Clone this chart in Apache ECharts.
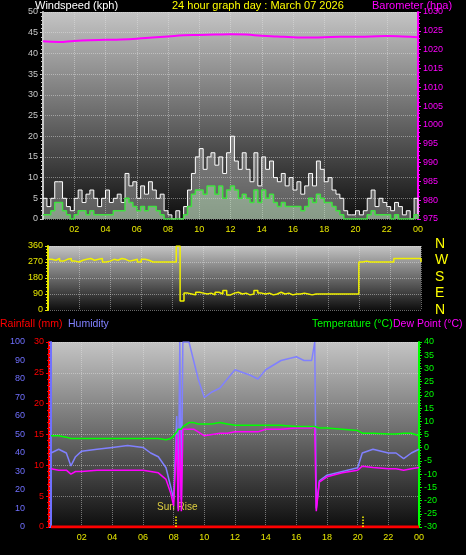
<!DOCTYPE html>
<html>
<head>
<meta charset="utf-8">
<script src="https://cdn.jsdelivr.net/npm/echarts@6/dist/echarts.min.js"></script>
<style>
html,body{margin:0;padding:0;background:#000}
#chart{width:466px;height:555px}
</style>
</head>
<body>
<div id="chart"></div>
<script>
// wind, 15 minute readings (kph)
var windGust=[5,3,5,9, 9,5,3,2, 5,7,4,6, 7,5,3,5, 7,4,5,6, 4,11,8,9, 5,8,6,9, 7,5,6,2,
  1,0,2,0, 3,7,11,15, 17,12,15,16, 13,15,11,16, 20,14,12,16, 12,9,16,8, 15,12,14,10, 9,11,8,10,
  7,9,6,8, 11,8,14,12, 9,10,7,6, 5,2,1,1, 2,1,2,5, 7,3,5,4, 3,2,4,3, 1,2,0,5, 1]
var windAvg=[1,1,2,4, 4,2,1,0, 1,2,2,1, 2,1,1,1, 1,1,2,2, 2,5,4,3, 2,3,2,3, 3,2,1,0,
  0,0,0,0, 1,3,6,7, 7,6,8,8, 6,8,5,7, 8,7,5,6, 5,4,7,4, 7,5,6,4, 3,4,3,3,
  3,3,2,3, 5,4,6,5, 4,4,3,2, 1,0,0,0, 0,0,0,1, 2,1,1,1, 1,0,1,0, 0,0,0,1, 0]
// wind direction, 15 minute readings (degrees)
var windDir=[285,280,290,275, 285,290,275,270, 280,285,290,280, 285,290,270,275,
  285,280,290,285, 275,280,285,270, 285,280,270,270, 270,270,270,270,
  270,360,50,95, 90,85,100,95, 90,95,85,100, 90,110,85,95, 100,90,95,85, 90,110,95,90,
  95,85,90,100, 90,95,85,90, 90,95,90,85, 90,90,90,90, 90,90,90,90, 90,90,90,90,
  270,275,270,270, 270,270,270,270, 270,290,290,290, 290,290,290,290, 270]
// barometer, hourly (hpa)
var baro=[1022.2,1022,1022.3,1022.5,1022.6,1022.7,1022.9,1023.2,1023.5,1023.8,1023.9,1024,1024.1,
  1024,1023.7,1023.5,1023.3,1023.2,1023.3,1023.4,1023.4,1023.5,1023.6,1023.5,1023.3]
// temperature panel readings
var t3=[0,0.5,1,1.3,1.6,2,3,4,5,6,6.5,7,7.5,7.8,8,8.2,8.3,8.4,8.5,8.6,8.7,9,9.3,9.6,10,10.5,11,11.5,12,13,13.5,14,15,16,16.5,17,17.2,17.3,17.5,18,19,20,20.3,21,22,22.5,23,23.5,24]
var humidity=[40,42,40,33,38,41,42,43,44,43,40,38,32,22,15,60,10,100,15,100,100,100,90,80,70,73,75,80,85,82,80,85,90,92,90,90,100,10,25,28,30,32,40,42,40,40,37,40,42]
var dewPoint=[-8,-8.5,-8.5,-10,-9,-9,-8.5,-8.5,-8.5,-8.5,-9,-9.5,-12,-17,-22,5,-24,7,-24,7,7,7,7,6,4.5,5,5.5,5.5,6,6,6,7,7,7.5,7.5,7.5,8,-24,-13,-11,-9.5,-8.5,-7,-7.5,-8,-8,-8.5,-8,-7.5]
var temperature=[4.5,4.5,4,3.5,3.5,3.5,3.5,3.5,3.5,3.5,3.5,3.5,3,3.5,4.5,6,7,7,7,8,8,9.5,9.5,9,9,9,9.5,9,8.5,8.5,8.5,8.5,8.5,8,8,8,8,8,7.5,7.5,7,6.5,5.5,5.5,5.2,5.2,5.5,5.5,4.5]
var rainfall=[[0,0],[24,0]]
var sunRise=8.15,sunSet=20.3
var compass=['N','W','S','E','N']

function pairs(times,vals){
    var out=[]
    for(var i=0;i<vals.length;i++) out.push([times[i],vals[i]])
    return out
}
var q=[],h=[]
for(var i=0;i<windGust.length;i++) q.push(i*0.25)
for(var i=0;i<baro.length;i++) h.push(i)

var font='"Liberation Sans", Arial, sans-serif'
var bg={type:'linear',x:0,y:0,x2:0,y2:1,colorStops:[{offset:0,color:'#c4c4c4'},{offset:0.5,color:'#6a6a6a'},{offset:1,color:'#0e0e0e'}]}
var split={show:true,lineStyle:{color:'rgba(230,230,230,0.45)',type:'dotted'}}

function xAx(idx,labels){
    return {type:'value',gridIndex:idx,min:0,max:24,interval:2,
        axisLine:{show:false},axisTick:{show:false},splitLine:split,
        axisLabel:{show:labels,color:'#e8e800',fontSize:9,fontFamily:font,margin:6,
            formatter:function(v){ if(v==0) return ''; if(v==24) return '00'; return (v<10?'0':'')+v }}}
}
function yAx(idx,min,max,iv,color,pos,offset,grid){
    return {type:'value',gridIndex:idx,min:min,max:max,interval:iv,position:pos,offset:offset||0,
        axisLine:{show:true,lineStyle:{color:color,width:2}},
        axisTick:{show:true,length:3,lineStyle:{color:color}},
        minorTick:{show:true,splitNumber:5,length:2,lineStyle:{color:color}},
        splitLine:grid?split:{show:false},
        axisLabel:{color:color,fontSize:9,fontFamily:font,margin:5,formatter:function(v){return String(v)}}}
}

var chart=echarts.init(document.getElementById('chart'))
var g=[]
function txt(x,y,s,c,size,align){
    g.push({type:'text',left:x,top:y,style:{text:s,fill:c,font:(size||11)+'px '+font,textAlign:align||'left'}})
}
txt(35,0,'Windspeed (kph)','#ffffff',11)
txt(172,0,'24 hour graph day : March 07 2026','#ffff00',11)
txt(372,0,'Barometer (hpa)','#ff00ff',11)
txt(0,319,'Rainfall (mm)','#ff0000',10.5)
txt(68,319,'Humidity','#8080ff',10.5)
txt(312,319,'Temperature (°C)','#00ff00',10.5)
txt(393,319,'Dew Point (°C)','#ff00ff',10.5)
txt(157,502,'Sun Rise','#e0d040',10)
compass.forEach(function(c,i){ txt(435,237+i*16.5,c,'#ffff00',14) })

chart.setOption({
    backgroundColor:'#000',
    animation:false,
    graphic:g,
    grid:[
        {left:43,right:48,top:12,height:207,show:true,backgroundColor:bg,borderWidth:0},
        {left:48,right:45,top:246,height:64,show:true,backgroundColor:bg,borderWidth:0},
        {left:51,right:47,top:342,height:185,show:true,backgroundColor:bg,borderWidth:0}
    ],
    xAxis:[xAx(0,true),xAx(1,false),xAx(2,true)],
    yAxis:[
        yAx(0,0,50,5,'#c8c8c8','left',0,true),
        yAx(0,975,1030,5,'#ff00ff','right',0,false),
        yAx(1,0,360,90,'#e8e800','left',0,true),
        yAx(2,0,100,10,'#7070ff','left',21,false),
        yAx(2,0,30,5,'#ff0000','left',2,true),
        yAx(2,-30,40,5,'#00ff00','right',0,false)
    ],
    series:[
        {type:'line',xAxisIndex:0,yAxisIndex:0,data:pairs(q,windGust),step:'end',symbol:'none',
            lineStyle:{color:'#ffffff',width:1},areaStyle:{color:'rgba(210,210,210,0.55)'}},
        {type:'line',xAxisIndex:0,yAxisIndex:0,data:pairs(q,windAvg),step:'end',symbol:'none',
            lineStyle:{color:'#40e040',width:1.5},areaStyle:{color:'rgba(200,245,200,0.6)'}},
        {type:'line',xAxisIndex:0,yAxisIndex:1,data:pairs(h,baro),smooth:true,symbol:'none',
            lineStyle:{color:'#ff00ff',width:2}},
        {type:'line',xAxisIndex:1,yAxisIndex:2,data:pairs(q,windDir),step:'end',symbol:'none',
            lineStyle:{color:'#f0f000',width:1.5}},
        {type:'line',xAxisIndex:2,yAxisIndex:3,data:pairs(t3,humidity),symbol:'none',
            lineStyle:{color:'#8080ff',width:1.5}},
        {type:'line',xAxisIndex:2,yAxisIndex:5,data:pairs(t3,dewPoint),symbol:'none',
            lineStyle:{color:'#ff00ff',width:1.5}},
        {type:'line',xAxisIndex:2,yAxisIndex:5,data:pairs(t3,temperature),symbol:'none',
            lineStyle:{color:'#00ff00',width:1.5},
            markLine:{symbol:'none',silent:true,label:{show:false},lineStyle:{color:'#ffff00',type:'dotted',width:1.5},
                data:[
                    [{coord:[sunRise,-30]},{coord:[sunRise,-26]}],
                    [{coord:[sunSet,-30]},{coord:[sunSet,-26]}]
                ]}},
        {type:'line',xAxisIndex:2,yAxisIndex:4,data:rainfall,symbol:'none',
            lineStyle:{color:'#ff0000',width:3}}
    ]
})
</script>
</body>
</html>
